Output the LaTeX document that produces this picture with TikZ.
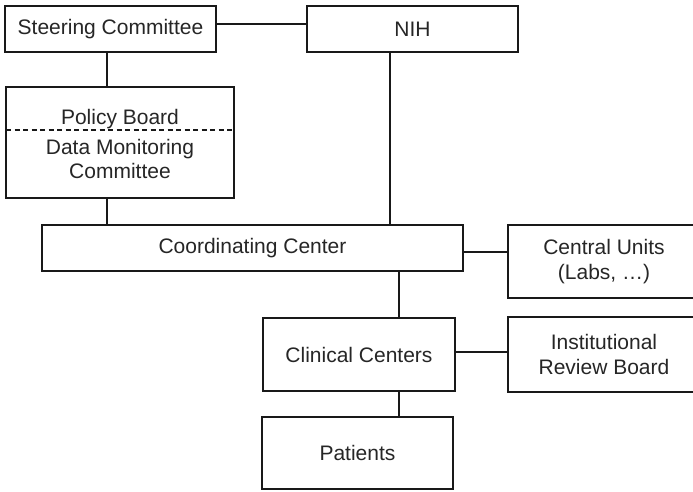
\documentclass[tikz,border=0pt]{standalone}
\usepackage{fontspec}
\setmainfont{Liberation Sans}
\begin{document}
\begin{tikzpicture}[x=1pt,y=-1pt,
  box/.style={draw=black!90, line width=1.6pt, fill=white, inner sep=0pt, align=center,
    font=\fontsize{21}{25}\selectfont, text=black!85},
  txt/.style={inner sep=0pt, align=center, font=\fontsize{21}{24.5}\selectfont, text=black!85},
  link/.style={draw=black!90, line width=1.6pt}]
\clip (0,0) rectangle (693,491);
\fill[white] (0,0) rectangle (693,491);
% boxes
\node[box, minimum width=211, minimum height=46] (steer) at (110.5,29) {Steering Committee};
\node[box, minimum width=211, minimum height=46] (nih) at (412.5,29) {NIH};
\node[box, minimum width=228, minimum height=111] (policy) at (120,142.5) {};
\node[box, minimum width=421, minimum height=46] (coord) at (252.5,248) {Coordinating Center};
\node[box, minimum width=192, minimum height=73] (central) at (604,261.5) {Central Units\\(Labs, …)};
\node[box, minimum width=192, minimum height=73] (clinical) at (359,354.5) {Clinical Centers};
\node[box, minimum width=192, minimum height=75] (irb) at (604,354.5) {Institutional\\Review Board};
\node[box, minimum width=191, minimum height=72] (patients) at (357.5,453) {Patients};
% policy box content
\node[txt, anchor=base] (pb) at (120,124) {Policy Board};
\node[txt] (dmc) at (120,159) {Data Monitoring\\Committee};
\coordinate (dl) at (6,130);
\coordinate (dr) at (234,130);
\draw[draw=black!90, line width=1.1pt, dash pattern=on 5pt off 3.5pt] (dl) -- (dr);
% connectors
\draw[link] ([yshift=5pt]steer.east) -- ([yshift=5pt]nih.west);
\draw[link] (steer.south -| 107,0) -- (policy.north -| 107,0);
\draw[link] (policy.south -| 107,0) -- (coord.north -| 107,0);
\draw[link] (nih.south -| 390,0) -- (coord.north -| 390,0);
\draw[link] (coord.east |- 0,252) -- (central.west |- 0,252);
\draw[link] (coord.south -| 399,0) -- (clinical.north -| 399,0);
\draw[link] (clinical.east |- 0,352) -- (irb.west |- 0,352);
\draw[link] (clinical.south -| 399,0) -- (patients.north -| 399,0);
\end{tikzpicture}
\end{document}
